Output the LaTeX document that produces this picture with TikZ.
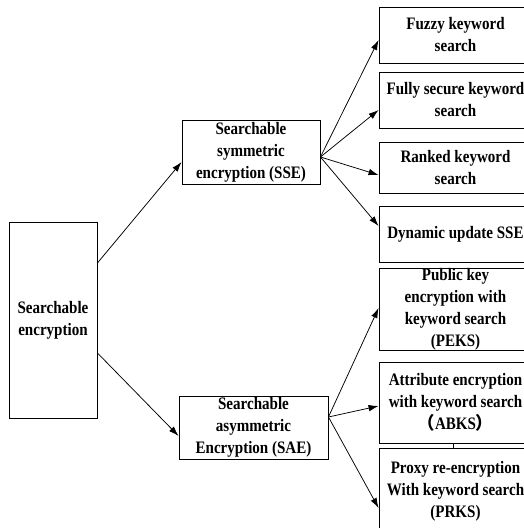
\documentclass[tikz,border=0pt]{standalone}
\usepackage{fontspec}
\setmainfont{Liberation Serif}[FakeStretch=0.86]
\newfontfamily\cjk{Noto Sans CJK SC}
\usetikzlibrary{arrows.meta}
\begin{document}
\begin{tikzpicture}[x=1pt,y=1pt,
  box/.style={draw, line width=0.9pt, inner sep=0pt, rectangle},
  txt/.style={align=center, inner sep=0pt,
    font=\bfseries\fontsize{17.5}{22}\selectfont},
  link/.style={line width=0.75pt, -{Latex[length=10pt,width=6.5pt]}}]
\useasboundingbox (0,0) rectangle (524,528);
\clip (0,0) rectangle (524,528);

% root
\node[box, minimum width=88pt, minimum height=196pt] (root) at (53,208) {};
\node[txt] at (root) {Searchable\\encryption};

% two families
\node[box, minimum width=138pt, minimum height=64pt] (sse) at (251,376) {};
\node[txt] at (sse) {Searchable\\symmetric\\encryption (SSE)};
\node[box, minimum width=149pt, minimum height=63pt] (sae) at (253.5,100.5) {};
\node[txt] at (sae) {Searchable\\asymmetric\\Encryption (SAE)};

% symmetric schemes
\node[box, minimum width=153pt, minimum height=56pt] (fuzzy) at (455.5,493) {};
\node[txt] at (fuzzy) {Fuzzy keyword\\search};
\node[box, minimum width=153pt, minimum height=56pt] (fully) at (455.5,428) {};
\node[txt] at (fully) {Fully secure keyword\\search};
\node[box, minimum width=153pt, minimum height=51pt] (ranked) at (455.5,360.5) {};
\node[txt] at (ranked) {Ranked keyword\\search};
\node[box, minimum width=153pt, minimum height=56pt] (dynamic) at (455.5,294) {};
\node[txt] at (dynamic) {Dynamic update SSE};

% asymmetric schemes
\node[box, minimum width=153pt, minimum height=82pt] (peks) at (455.5,219) {};
\node[txt] at (peks) {Public key\\encryption with\\keyword search\\(PEKS)};
\node[box, minimum width=153pt, minimum height=81pt] (abks) at (455.5,125.5) {};
\node[txt] at (abks) {Attribute encryption\\with keyword search\\{\cjk （}ABKS{\cjk ）}};
\node[box, minimum width=153pt, minimum height=86pt] (prks) at (455.5,37) {};
\node[txt] at (prks) {Proxy re-encryption\\With keyword search\\(PRKS)};

% connectors
\draw[link] ([yshift=57pt]root.east) -- ([yshift=-10pt]sse.west);
\draw[link] ([yshift=-33pt]root.east) -- ([yshift=-8.5pt]sae.west);

\coordinate (ssehub) at ([yshift=-5pt]sse.east);
\draw[link] (ssehub) -- ([yshift=-5pt]fuzzy.west);
\draw[link] (ssehub) -- ([yshift=-10pt]fully.west);
\draw[link] (ssehub) -- ([yshift=-7.5pt]ranked.west);
\draw[link] (ssehub) -- ([yshift=8pt]dynamic.west);

\coordinate (saehub) at ([yshift=10.5pt]sae.east);
\draw[link] (saehub) -- ([yshift=1pt]peks.west);
\draw[link] (saehub) -- ([yshift=-3.5pt]abks.west);
\draw[link] (saehub) -- ([yshift=-17pt]prks.west);

\draw[line width=0.7pt] ([xshift=-2.5pt]abks.south) -- ([xshift=-2.5pt]prks.north);
\end{tikzpicture}
\end{document}
